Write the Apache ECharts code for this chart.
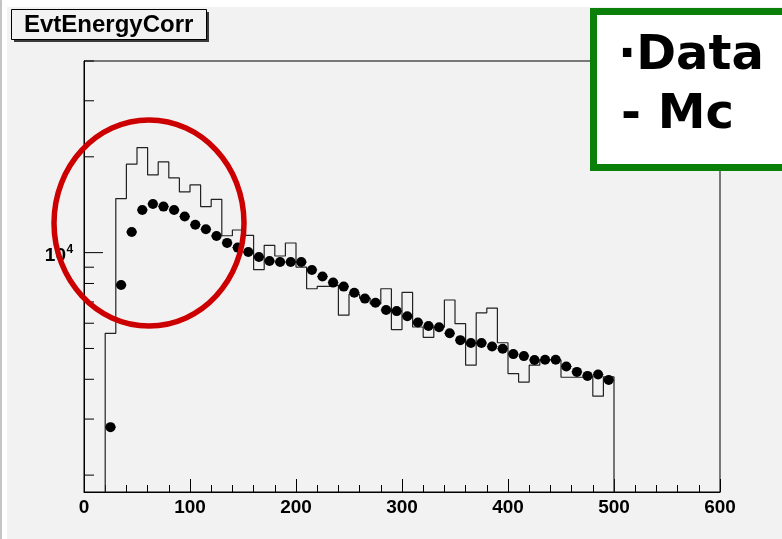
<!DOCTYPE html>
<html>
<head>
<meta charset="utf-8">
<script src="https://cdn.jsdelivr.net/npm/echarts/dist/echarts.min.js"></script>
<style>
html,body{margin:0;padding:0;background:#f2f2f2;}
#chart{width:782px;height:539px;}
</style>
</head>
<body>
<div id="chart"></div>
<script>
// ---- data ----
const TITLE = 'EvtEnergyCorr';
// Data points: bin centres and counts
const dataX = [25,35,45,55,65,75,85,95,105,115,125,135,145,155,165,175,185,195,205,215,225,235,245,255,265,275,285,295,305,315,325,335,345,355,365,375,385,395,405,415,425,435,445,455,465,475,485,495];
const dataY = [2830,7910,11610,13620,14220,13950,13620,12980,12240,11840,11280,10730,10370,10040,9690,9410,9340,9340,9340,8820,8410,8050,7820,7480,7170,6960,6600,6550,6310,6030,5880,5830,5580,5310,5200,5200,5070,4990,4800,4730,4600,4610,4610,4390,4220,4100,4140,3980];
// MC histogram: bin low edges and contents (bin width 10)
const mcLow = [20,30,40,50,60,70,80,90,100,110,120,130,140,150,160,170,180,190,200,210,220,230,240,250,260,270,280,290,300,310,320,330,340,350,360,370,380,390,400,410,420,430,440,450,460,470,480,490];
const mcY = [5580,14790,18960,21380,17540,19270,17170,15510,16320,13950,14710,11300,11780,11330,8840,10540,9760,10720,9010,7700,7830,7900,6360,7400,7200,6900,7700,5730,7500,5840,5420,5840,7100,5980,4430,6470,6690,5210,4170,3920,4430,4600,4600,4060,4060,4080,3540,4070];
const BIN_W = 10;
// axes
const X_MIN = 0, X_MAX = 600, X_STEP = 100;
const Y_MIN = 1770, Y_MAX = 40000;
const yTickValues = [2000,3000,4000,5000,6000,7000,8000,9000,10000,20000,30000,40000];
const yLabelValue = 10000;
const legendLines = ['\u00B7Data', '- Mc'];

// ---- build ----
const mcLine = [[mcLow[0], Y_MIN]];
mcLow.forEach((x, i) => mcLine.push([x, mcY[i]]));
mcLine.push([mcLow[mcLow.length - 1] + BIN_W, mcY[mcY.length - 1]]);
mcLine.push([mcLow[mcLow.length - 1] + BIN_W, Y_MIN]);

const pts = dataX.map((x, i) => [x, dataY[i]]);

const chart = echarts.init(document.getElementById('chart'), null, {renderer: 'canvas'});
const FONT = '"Liberation Sans", Arial, Helvetica, sans-serif';

chart.setOption({
  animation: false,
  backgroundColor: '#f2f2f2',
  grid: {left: 84, right: 62, top: 61, bottom: 47, show: true, borderColor: '#000', borderWidth: 1, backgroundColor: 'transparent'},
  xAxis: {
    type: 'value', min: X_MIN, max: X_MAX, interval: X_STEP,
    axisLine: {lineStyle: {color: '#000', width: 1}},
    axisTick: {inside: true, length: 13, lineStyle: {color: '#000'}},
    minorTick: {show: true, splitNumber: 5, length: 7, lineStyle: {color: '#000'}},
    splitLine: {show: false},
    axisLabel: {color: '#000', fontFamily: FONT, fontWeight: 'bold', fontSize: 19, margin: 6}
  },
  yAxis: {
    type: 'log', logBase: 10, min: Y_MIN, max: Y_MAX,
    axisLine: {show: true, lineStyle: {color: '#000', width: 1}},
    axisTick: {show: false},
    axisLabel: {show: false},
    splitLine: {show: false}
  },
  series: [
    {
      type: 'line', step: 'end', data: mcLine, symbol: 'none', clip: true,
      lineStyle: {color: '#222', width: 1.2}, z: 2
    },
    {
      type: 'custom', data: pts, z: 3, clip: false,
      renderItem: function (params, api) {
        const x = api.value(0), y = api.value(1);
        const a = api.coord([x - BIN_W / 2, y]);
        const b = api.coord([x + BIN_W / 2, y]);
        return {type: 'line', shape: {x1: a[0], y1: a[1], x2: b[0], y2: b[1]}, style: {stroke: '#000', lineWidth: 1}};
      }
    },
    {
      type: 'scatter', data: pts, symbol: 'circle', symbolSize: 10,
      itemStyle: {color: '#000', opacity: 1}, z: 4
    },
    {
      type: 'custom', data: yTickValues.map(v => [X_MIN, v]), z: 5, clip: false, silent: true,
      renderItem: function (params, api) {
        const v = api.value(1);
        const p = api.coord([X_MIN, v]);
        const major = v === yLabelValue;
        const children = [{type: 'line', shape: {x1: p[0], y1: p[1], x2: p[0] + (major ? 19 : 10), y2: p[1]}, style: {stroke: '#000', lineWidth: 1}}];
        if (major) {
          const exp = Math.round(Math.log10(v));
          children.push({type: 'text', style: {text: '10', x: p[0] - 18, y: p[1] + 3, align: 'right', verticalAlign: 'middle', font: 'bold 19px ' + FONT, fill: '#000'}});
          children.push({type: 'text', style: {text: String(exp), x: p[0] - 17.5, y: p[1] - 3, align: 'left', verticalAlign: 'middle', font: 'bold 12px ' + FONT, fill: '#000'}});
        }
        return {type: 'group', children: children};
      }
    }
  ],
  graphic: [
    {type: 'rect', shape: {x: 0, y: 0, width: 782, height: 7}, style: {fill: '#ffffff'}, z: 0, silent: true},
    {type: 'rect', shape: {x: 0, y: 0, width: 7, height: 539}, style: {fill: '#ffffff'}, z: 0, silent: true},
    {type: 'rect', shape: {x: 0, y: 0, width: 2, height: 539}, style: {fill: '#c4c4c4'}, z: 0, silent: true},
    // title box with shadow
    {type: 'rect', shape: {x: 14, y: 12, width: 195, height: 30}, style: {fill: '#3a3a3a'}, z: 10, silent: true},
    {type: 'rect', shape: {x: 11.5, y: 9.5, width: 195, height: 30}, style: {fill: '#f2f2f2', stroke: '#000', lineWidth: 1}, z: 11, silent: true},
    {type: 'text', style: {text: TITLE, x: 24, y: 25, verticalAlign: 'middle', font: 'bold 24px ' + FONT, fill: '#000'}, z: 12, silent: true},
    // red ellipse annotation
    {type: 'ellipse', shape: {cx: 149, cy: 223, rx: 95, ry: 103}, style: {fill: 'none', stroke: '#cc0000', lineWidth: 5.5}, z: 20, silent: true},
    // green legend box
    {type: 'rect', shape: {x: 593.5, y: 11.5, width: 200, height: 156}, style: {fill: '#ffffff', stroke: '#0a800a', lineWidth: 7}, z: 20, silent: true},
    {type: 'text', style: {text: legendLines[0], x: 618, y: 57, verticalAlign: 'middle', font: 'bold 48px "DejaVu Sans", sans-serif', fill: '#000'}, z: 21, silent: true},
    {type: 'text', style: {text: legendLines[1], x: 621, y: 116, verticalAlign: 'middle', font: 'bold 48px "DejaVu Sans", sans-serif', fill: '#000'}, z: 21, silent: true}
  ]
});
</script>
</body>
</html>
